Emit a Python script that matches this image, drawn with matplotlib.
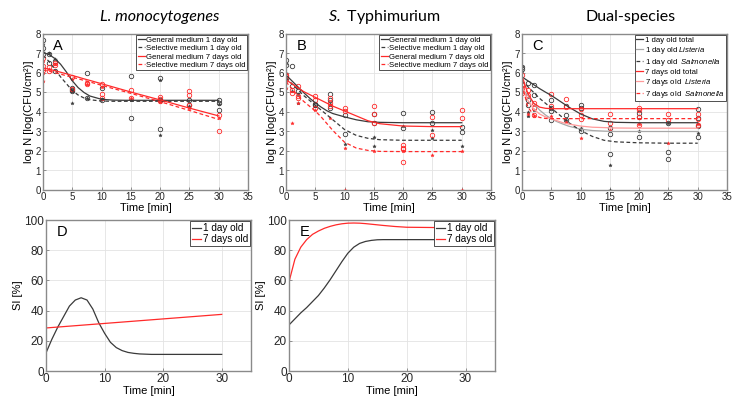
import numpy as np
import matplotlib
matplotlib.use("Agg")
import matplotlib.pyplot as plt

plt.rcParams["font.family"] = ["Liberation Sans", "DejaVu Sans"]
plt.rcParams["mathtext.fontset"] = "custom"
plt.rcParams["mathtext.rm"] = "Liberation Sans"
plt.rcParams["mathtext.it"] = "Liberation Sans:italic"
plt.rcParams["mathtext.sf"] = "Lato:italic"

# time points of the fitted curves (top row)
t_fit = [0, 1, 2, 3, 4, 5, 6, 7, 8, 10, 12, 14, 16, 20, 25, 30]

# panel A - L. monocytogenes
A_gen1 = [7.05, 6.95, 6.75, 6.45, 6.05, 5.6, 5.25, 5.0, 4.82, 4.65, 4.61, 4.6, 4.6, 4.6, 4.6, 4.6]
A_sel1 = [6.9, 6.6, 6.2, 5.8, 5.45, 5.1, 4.87, 4.72, 4.63, 4.56, 4.55, 4.55, 4.55, 4.55, 4.55, 4.55]
A_gen7 = [6.25, 6.2, 6.12, 6.04, 5.96, 5.87, 5.79, 5.7, 5.62, 5.45, 5.28, 5.11, 4.94, 4.62, 4.2, 3.8]
A_sel7 = [6.15, 6.1, 6.02, 5.94, 5.86, 5.78, 5.7, 5.62, 5.54, 5.37, 5.2, 5.04, 4.87, 4.53, 4.08, 3.62]

A_o1_t = [0, 0, 0, 1, 1, 2, 2, 5, 5, 5, 7.5, 7.5, 10, 10, 15, 15, 20, 20, 20, 25, 25, 30, 30, 30]
A_o1_y = [7.7, 7.3, 6.95, 6.95, 6.5, 6.1, 6.6, 5.23, 5.15, 5.06, 6.0, 4.72, 5.23, 4.63, 5.83, 3.69, 5.74, 3.14, 4.6, 4.63, 4.38, 4.46, 4.12, 4.63]
A_s1_t = [0, 0, 1, 2, 5, 5, 7.5, 10, 15, 20, 20, 25, 30]
A_s1_y = [7.5, 7.1, 7.0, 6.7, 4.46, 5.1, 4.72, 4.65, 4.6, 2.84, 5.65, 4.3, 4.4]
A_o7_t = [0, 0, 0, 1, 1, 2, 2, 5, 5, 7.5, 7.5, 10, 10, 10, 15, 15, 20, 20, 20, 25, 25, 25, 30, 30]
A_o7_y = [6.77, 6.35, 6.17, 6.3, 6.1, 6.5, 6.4, 5.78, 5.2, 5.49, 5.44, 5.44, 4.92, 4.72, 5.15, 4.72, 4.75, 4.65, 4.55, 5.06, 4.89, 4.34, 3.86, 3.0]
A_s7_t = [0, 0, 0, 1, 2, 5, 7.5, 10, 15, 20, 25, 30]
A_s7_y = [6.6, 6.0, 5.6, 6.2, 6.45, 5.7, 5.42, 5.3, 4.72, 4.5, 4.2, 3.7]

# panel B - S. Typhimurium
B_gen1 = [5.9, 5.6, 5.3, 5.0, 4.72, 4.47, 4.25, 4.06, 3.92, 3.75, 3.6, 3.5, 3.47, 3.45, 3.45, 3.45]
B_sel1 = [5.75, 5.45, 5.15, 4.85, 4.6, 4.35, 4.1, 3.85, 3.6, 3.1, 2.8, 2.65, 2.58, 2.55, 2.55, 2.55]
B_gen7 = [5.65, 5.45, 5.25, 5.05, 4.9, 4.75, 4.6, 4.45, 4.3, 4.05, 3.8, 3.55, 3.4, 3.28, 3.25, 3.25]
B_sel7 = [5.55, 5.2, 4.85, 4.55, 4.3, 4.05, 3.75, 3.4, 3.05, 2.45, 2.15, 2.03, 1.98, 1.97, 1.97, 1.97]

B_o1_t = [0, 0, 1, 1, 2, 5, 5, 7.5, 7.5, 7.5, 10, 10, 15, 15, 20, 20, 25, 25, 30, 30]
B_o1_y = [6.68, 6.43, 6.34, 5.32, 5.06, 4.41, 4.34, 4.92, 4.63, 4.2, 3.83, 2.87, 3.9, 3.44, 3.95, 3.18, 4.0, 3.42, 3.21, 2.96]
B_s1_t = [0, 0, 1, 2, 2, 5, 7.5, 10, 15, 15, 20, 25, 25, 30]
B_s1_y = [6.5, 6.0, 5.1, 4.9, 4.45, 4.3, 4.4, 2.36, 2.7, 2.24, 3.26, 3.09, 2.67, 2.27]
B_o7_t = [0, 0, 0, 1, 1, 2, 2, 2, 5, 5, 5, 7.5, 7.5, 7.5, 10, 10, 15, 15, 15, 20, 20, 20, 20, 25, 25, 30, 30]
B_o7_y = [5.91, 5.83, 5.74, 5.15, 4.97, 5.32, 4.8, 4.72, 4.8, 4.63, 4.2, 4.72, 4.46, 4.29, 4.2, 4.03, 4.32, 3.9, 3.44, 2.32, 2.15, 2.12, 1.42, 3.73, 2.84, 4.12, 3.7]
B_s7_t = [0, 0, 1, 2, 5, 7.5, 10, 10, 15, 20, 25, 30, 30]
B_s7_y = [5.57, 5.23, 3.44, 4.46, 4.1, 3.7, 2.15, 0.0, 2.0, 2.0, 1.81, 2.0, 0.0]

# panel C - dual-species
C_tot1 = [5.8, 5.6, 5.4, 5.2, 5.02, 4.85, 4.65, 4.45, 4.25, 3.9, 3.65, 3.52, 3.47, 3.45, 3.45, 3.45]
C_lis1 = [5.2, 4.85, 4.45, 4.1, 3.85, 3.65, 3.5, 3.38, 3.27, 3.12, 3.05, 3.02, 3.0, 3.0, 3.0, 3.0]
C_sal1 = [5.6, 5.3, 5.0, 4.7, 4.45, 4.2, 3.95, 3.7, 3.45, 3.05, 2.75, 2.55, 2.47, 2.42, 2.4, 2.4]
C_tot7 = [5.85, 4.95, 4.45, 4.25, 4.19, 4.17, 4.17, 4.17, 4.17, 4.17, 4.17, 4.17, 4.17, 4.17, 4.17, 4.17]
C_lis7 = [5.3, 4.6, 4.15, 3.9, 3.75, 3.65, 3.55, 3.45, 3.38, 3.28, 3.22, 3.2, 3.18, 3.17, 3.17, 3.17]
C_sal7 = [5.4, 4.25, 3.85, 3.72, 3.67, 3.66, 3.66, 3.66, 3.66, 3.66, 3.66, 3.66, 3.66, 3.66, 3.66, 3.66]

C_o1_t = [0, 0, 1, 1, 1, 2, 2, 5, 5, 5, 5, 7.5, 7.5, 7.5, 10, 10, 10, 15, 15, 15, 20, 20, 20, 25, 25, 25, 30, 30, 30, 30]
C_o1_y = [6.3, 6.2, 5.49, 4.63, 4.38, 5.4, 4.89, 4.63, 4.2, 4.07, 3.6, 4.29, 3.83, 3.6, 4.34, 4.2, 3.0, 3.18, 2.87, 1.86, 3.95, 3.73, 2.7, 3.44, 1.95, 1.6, 4.17, 3.69, 3.26, 2.7]
C_s1_t = [0, 0, 1, 1, 2, 5, 7.5, 10, 15, 15, 20, 25, 30]
C_s1_y = [6.35, 6.1, 4.0, 3.78, 4.1, 4.2, 3.6, 3.2, 1.26, 0.0, 3.0, 3.45, 2.9]
C_o7_t = [0, 0, 0, 0, 1, 1, 2, 2, 2, 5, 5, 7.5, 7.5, 10, 10, 10, 15, 15, 20, 20, 20, 20, 25, 25, 25, 30, 30, 30]
C_o7_y = [5.9, 5.4, 5.23, 4.97, 5.15, 4.89, 4.46, 4.2, 3.83, 4.92, 4.32, 4.68, 4.25, 4.17, 3.83, 3.66, 3.9, 3.44, 4.2, 4.12, 3.73, 3.35, 4.89, 3.9, 3.6, 3.9, 3.66, 3.35]
C_s7_t = [0, 0, 1, 2, 5, 7.5, 10, 15, 20, 25, 30]
C_s7_y = [5.3, 5.0, 3.9, 3.8, 3.8, 3.5, 2.67, 3.1, 3.4, 2.41, 3.4]

# bottom row - SI curves
t_si = [0, 1, 2, 3, 4, 5, 6, 7, 8, 9, 10, 11, 12, 13, 14, 15, 16, 18, 20, 25, 30]
D_day1 = [12, 21, 29, 36, 43, 47, 48.5, 47, 41, 32, 25, 19, 15.5, 13.5, 12.3, 11.7, 11.3, 11, 11, 11, 11]
D_day7_t = [0, 30]
D_day7 = [28.5, 37.5]
E_day1 = [30.5, 34.5, 38.5, 42, 46, 50, 55, 60.5, 66.5, 72.5, 78, 82, 84.5, 85.8, 86.5, 86.9, 87, 87, 87, 87, 87]
E_day7 = [59, 74, 82, 87, 90.5, 92.7, 94.5, 95.8, 96.8, 97.5, 97.9, 98, 97.9, 97.6, 97.2, 96.8, 96.4, 95.7, 95.2, 95, 95]

BLK = "#3a3a3a"
RED = "#ff2a2a"
GRY = "#a8a8a8"
PNK = "#ff9a9a"
DASH = (3, 2)

W, H = 740, 411
fig = plt.figure(figsize=(W / 100, H / 100), dpi=100)


def add_ax(x0, y0, x1, y1):
    return fig.add_axes([x0 / W, 1 - y1 / H, (x1 - x0) / W, (y1 - y0) / H])


def style(ax, ymax, ystep, xstep, fs):
    ax.set_xlim(0, 35)
    ax.set_ylim(0, ymax)
    ax.set_xticks(np.arange(0, 36, xstep))
    ax.set_yticks(np.arange(0, ymax + 0.1, ystep))
    ax.grid(True, color="#e3e3e3", lw=0.6)
    ax.set_axisbelow(True)
    ax.tick_params(direction="in", length=2, width=0.6, labelsize=fs,
                   colors="#808080", labelcolor="#262626", pad=1.5)
    for s in ax.spines.values():
        s.set_color("#8a8a8a")
        s.set_linewidth(1.0)


def legend(ax, fs, **kw):
    leg = ax.legend(loc="upper right", fontsize=fs, handlelength=0.9,
                    handletextpad=0.2, borderpad=0.2, labelspacing=0.12,
                    borderaxespad=0.1, fancybox=False, framealpha=1,
                    edgecolor="#333333", **kw)
    leg.get_frame().set_linewidth(0.6)
    return leg


def pts(ax, t, y, color, mk):
    if mk == "o":
        ax.plot(t, y, "o", ms=3.2, mfc="none", mec=color, mew=0.6, ls="none")
    else:
        ax.plot(t, y, "*", ms=2.6, color=color, mew=0.3, ls="none")


top_labels = ["General medium 1 day old", "Selective medium 1 day old",
              "General medium 7 days old", "Selective medium 7 days old"]

# ---- A
axA = add_ax(43, 34, 248, 190)
style(axA, 8, 1, 5, 7)
pts(axA, A_o1_t, A_o1_y, BLK, "o")
pts(axA, A_s1_t, A_s1_y, BLK, "*")
pts(axA, A_o7_t, A_o7_y, RED, "o")
pts(axA, A_s7_t, A_s7_y, RED, "*")
axA.plot(t_fit, A_gen1, color=BLK, lw=0.9, label=top_labels[0])
axA.plot(t_fit, A_sel1, color=BLK, lw=0.9, dashes=DASH, label=top_labels[1])
axA.plot(t_fit, A_gen7, color=RED, lw=0.9, label=top_labels[2])
axA.plot(t_fit, A_sel7, color=RED, lw=0.9, dashes=DASH, label=top_labels[3])

# ---- B
axB = add_ax(286, 34, 491, 190)
style(axB, 8, 1, 5, 7)
pts(axB, B_o1_t, B_o1_y, BLK, "o")
pts(axB, B_s1_t, B_s1_y, BLK, "*")
pts(axB, B_o7_t, B_o7_y, RED, "o")
pts(axB, B_s7_t, B_s7_y, RED, "*")
axB.plot(t_fit, B_gen1, color=BLK, lw=0.9, label=top_labels[0])
axB.plot(t_fit, B_sel1, color=BLK, lw=0.9, dashes=DASH, label=top_labels[1])
axB.plot(t_fit, B_gen7, color=RED, lw=0.9, label=top_labels[2])
axB.plot(t_fit, B_sel7, color=RED, lw=0.9, dashes=DASH, label=top_labels[3])

# ---- C
axC = add_ax(522, 34, 727, 190)
style(axC, 8, 1, 5, 7)
pts(axC, C_o1_t, C_o1_y, BLK, "o")
pts(axC, C_s1_t, C_s1_y, BLK, "*")
pts(axC, C_o7_t, C_o7_y, RED, "o")
pts(axC, C_s7_t, C_s7_y, RED, "*")
axC.plot(t_fit, C_tot1, color=BLK, lw=0.9, label="1 day old total")
axC.plot(t_fit, C_lis1, color=GRY, lw=0.9, label=r"1 day old $\mathit{Listeria}$")
axC.plot(t_fit, C_sal1, color=BLK, lw=0.9, dashes=DASH, label=r"1 day old  $\mathit{Salmonella}$")
axC.plot(t_fit, C_tot7, color=RED, lw=0.9, label="7 days old total")
axC.plot(t_fit, C_lis7, color=PNK, lw=0.9, label=r"7 days old  $\mathit{Listeria}$")
axC.plot(t_fit, C_sal7, color=RED, lw=0.9, dashes=DASH, label=r"7 days old  $\mathit{Salmonella}$")

for ax, letter in [(axA, "A"), (axB, "B"), (axC, "C")]:
    legend(ax, 5.6)
    ax.set_xlabel("Time [min]", fontsize=8, labelpad=1)
    ax.set_ylabel("log N [log(CFU/cm²)]", fontsize=8, labelpad=1)
    ax.text(0.05, 0.965, letter, transform=ax.transAxes, fontsize=10.5,
            va="top", ha="left")

# ---- D
axD = add_ax(46, 220, 251, 371)
style(axD, 100, 20, 10, 8.5)
axD.plot(t_si, D_day1, color=BLK, lw=0.9, label="1 day old")
axD.plot(D_day7_t, D_day7, color=RED, lw=0.9, label="7 days old")

# ---- E
axE = add_ax(289, 220, 495, 371)
style(axE, 100, 20, 10, 8.5)
axE.plot(t_si, E_day1, color=BLK, lw=0.9, label="1 day old")
axE.plot(t_si, E_day7, color=RED, lw=0.9, label="7 days old")

for ax, letter in [(axD, "D"), (axE, "E")]:
    legend(ax, 7.2)
    ax.set_xlabel("Time [min]", fontsize=8, labelpad=1)
    ax.set_ylabel("SI [%]", fontsize=8, labelpad=1)
    ax.text(0.05, 0.965, letter, transform=ax.transAxes, fontsize=10.5,
            va="top", ha="left")

# column titles
ty = 1 - 17 / H
fig.text(160 / W, ty, "L. monocytogenes", family="Lato", style="italic",
         fontsize=11.5, ha="center", va="center")
fig.text(384 / W, ty, r"$\mathsf{S.}$ Typhimurium", family="Lato",
         fontsize=11.5, ha="center", va="center")
fig.text(631 / W, ty, "Dual-species", family="Lato",
         fontsize=11.5, ha="center", va="center")

fig.savefig("out.png", dpi=100)
